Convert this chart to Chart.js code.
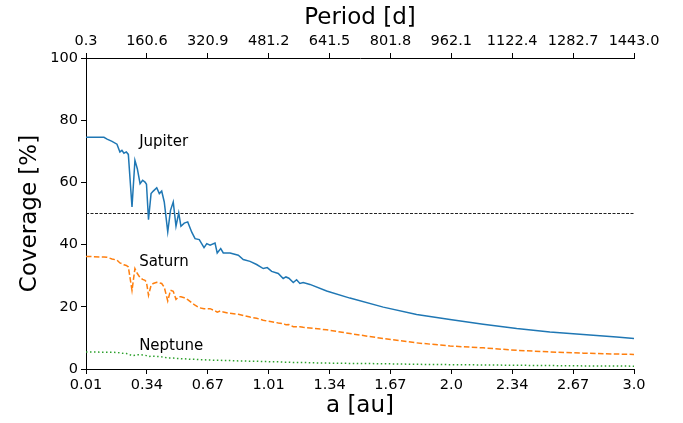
<!DOCTYPE html>
<html>
<head>
<meta charset="utf-8">
<script src="https://cdn.jsdelivr.net/npm/chart.js@4/dist/chart.umd.min.js"></script>
<style>
  html, body { margin: 0; padding: 0; background: #fff; }
  #c { display: block; }
</style>
</head>
<body>
<canvas id="c" width="683" height="423"></canvas>
<script>
// ---- data ----
const aValues = [0.01,0.108,0.125,0.152,0.179,0.195,0.206,0.217,0.230,0.241,
  0.261,0.277,0.290,0.305,0.319,0.332,0.340,0.351,0.365,0.377,
  0.396,0.410,0.423,0.437,0.456,0.471,0.486,0.501,0.516,0.528,
  0.546,0.565,0.587,0.605,0.628,0.654,0.669,0.687,0.714,0.726,
  0.745,0.759,0.796,0.841,0.868,0.905,0.941,0.977,0.999,1.023,
  1.059,1.086,1.101,1.117,1.141,1.159,1.177,1.195,1.232,1.323,
  1.450,1.632,1.814,1.996,2.177,2.360,2.541,2.723,2.905,3.0];

const jupiter = [74.5,74.5,73.9,73.2,72.3,69.8,70.3,69.4,69.8,69.0,
  52.1,67.1,64.4,59.6,60.7,60.1,59.4,48.0,56.4,57.2,
  58.3,56.4,57.2,53.7,44.1,51.0,53.7,45.9,50.2,45.9,
  46.9,47.3,44.0,41.9,41.6,39.0,40.3,39.8,40.5,37.3,
  38.7,37.3,37.3,36.6,35.2,34.6,33.6,32.3,32.6,31.4,
  30.7,29.1,29.6,29.2,27.8,28.7,27.5,27.8,27.2,25.1,
  22.8,19.9,17.5,15.9,14.4,13.0,11.9,11.1,10.3,9.8];

const saturn = [36.2,36.0,35.9,35.4,35.0,34.1,33.9,33.5,33.3,32.8,
  25.3,32.3,30.7,29.4,28.8,28.5,27.9,23.7,26.9,27.5,
  27.9,27.7,27.5,26.3,21.9,25.3,25.0,22.4,23.2,23.2,
  22.9,22.3,21.3,20.5,19.7,19.4,19.4,19.4,18.7,18.3,
  18.7,18.3,17.9,17.6,17.2,16.7,16.3,15.7,15.4,15.2,
  14.8,14.6,14.2,14.3,13.6,13.6,13.6,13.4,13.2,12.6,
  11.4,9.8,8.4,7.4,6.8,6.0,5.5,5.1,4.8,4.7];

const neptune = [5.5,5.4,5.4,5.4,5.3,5.2,5.1,5.0,5.0,4.8,
  4.3,4.4,4.6,4.6,4.5,4.4,4.3,4.0,4.1,4.1,
  4.0,4.0,3.9,3.8,3.5,3.5,3.5,3.4,3.4,3.3,
  3.3,3.2,3.1,3.1,3.0,3.0,2.9,2.9,2.8,2.8,
  2.8,2.7,2.7,2.6,2.6,2.5,2.5,2.4,2.4,2.3,
  2.3,2.2,2.2,2.2,2.1,2.1,2.1,2.1,2.0,1.9,
  1.8,1.7,1.5,1.4,1.3,1.2,1.1,1.0,1.0,0.9];

const threshold = 50;

const tickValues = [0.01,0.3422,0.6744,1.0067,1.3389,1.6711,2.0033,2.3356,2.6678,3.0];
const aTickLabels = ["0.01","0.34","0.67","1.01","1.34","1.67","2.0","2.34","2.67","3.0"];
const periodTickLabels = ["0.3","160.6","320.9","481.2","641.5","801.8","962.1","1122.4","1282.7","1443.0"];
const yTickValues = [0,20,40,60,80,100];

const seriesNames = ["Jupiter","Saturn","Neptune"];
const labelA = [0.3, 0.3, 0.3];
const labelV = [71.7, 33.1, 6.2];

// ---- build ----
const FONT = "'DejaVu Sans', 'Liberation Sans', sans-serif";
const toXY = vals => aValues.map((a, i) => ({x: a, y: vals[i]}));

const textPlugin = {
  id: 'seriesText',
  afterDatasetsDraw(chart) {
    const {ctx, scales} = chart;
    ctx.save();
    ctx.font = "15px " + FONT;
    ctx.fillStyle = "#000";
    ctx.textAlign = "left";
    ctx.textBaseline = "alphabetic";
    seriesNames.forEach((n, i) => {
      ctx.fillText(n, scales.x.getPixelForValue(labelA[i]), scales.y.getPixelForValue(labelV[i]));
    });
    ctx.restore();
  }
};

const xAxisBase = (pos, labels, title, h) => ({
  type: 'linear',
  position: pos,
  min: 0.01, max: 3.0,
  afterBuildTicks: ax => { ax.ticks = tickValues.map(v => ({value: v})); },
  afterFit: ax => { ax.height = h; },
  ticks: {
    autoSkip: false, maxRotation: 0, minRotation: 0,
    color: '#000', padding: 3,
    font: {family: FONT, size: 14.5},
    callback: (v, i) => labels[i]
  },
  grid: {drawOnChartArea: false, drawTicks: true, tickLength: 5, color: '#000', lineWidth: 1},
  border: {display: true, color: '#000', width: 1},
  title: {display: true, text: title, color: '#000', font: {family: FONT, size: 23}, padding: {top: 4, bottom: 3}}
});

new Chart(document.getElementById('c'), {
  type: 'line',
  data: {
    datasets: [
      {label: 'Jupiter', data: toXY(jupiter), borderColor: '#1f77b4', borderWidth: 1.5, pointRadius: 0, tension: 0, xAxisID: 'x', yAxisID: 'y'},
      {label: 'Saturn', data: toXY(saturn), borderColor: '#ff7f0e', borderWidth: 1.5, borderDash: [5.5, 2.4], pointRadius: 0, tension: 0, xAxisID: 'x', yAxisID: 'y'},
      {label: 'Neptune', data: toXY(neptune), borderColor: '#2ca02c', borderWidth: 1.5, borderDash: [1.5, 2.5], pointRadius: 0, tension: 0, xAxisID: 'x', yAxisID: 'y'},
      {label: 'threshold', data: [{x: 0.01, y: threshold}, {x: 3.0, y: threshold}], borderColor: '#222', borderWidth: 1, borderDash: [3, 1.5], pointRadius: 0, xAxisID: 'x', yAxisID: 'y'}
    ]
  },
  options: {
    responsive: false,
    animation: false,
    devicePixelRatio: 1,
    layout: {padding: {left: 0, right: 49, top: 0, bottom: 0}},
    plugins: {legend: {display: false}, tooltip: {enabled: false}},
    scales: {
      x: xAxisBase('bottom', aTickLabels, 'a [au]', 54),
      x2: xAxisBase('top', periodTickLabels, 'Period [d]', 58),
      y: {
        type: 'linear',
        position: 'left',
        min: 0, max: 100,
        afterBuildTicks: ax => { ax.ticks = yTickValues.map(v => ({value: v})); },
        afterFit: ax => { ax.width = 86; },
        ticks: {color: '#000', padding: 3, font: {family: FONT, size: 14.5}},
        grid: {drawOnChartArea: false, drawTicks: true, tickLength: 5, color: '#000', lineWidth: 1},
        border: {display: true, color: '#000', width: 1},
        title: {display: true, text: 'Coverage [%]', color: '#000', font: {family: FONT, size: 23}, padding: {top: 16, bottom: 4}}
      }
    }
  },
  plugins: [textPlugin]
});
</script>
</body>
</html>
